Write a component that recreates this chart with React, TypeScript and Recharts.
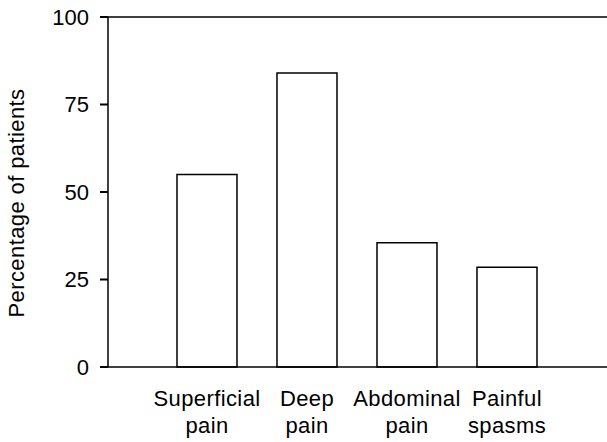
import { BarChart, Bar, XAxis, YAxis, ReferenceLine, Label } from "recharts";

const categories = ["Superficial pain", "Deep pain", "Abdominal pain", "Painful spasms"];
const percentages = [55, 84, 35.5, 28.5];
const yTicks = [0, 25, 50, 75, 100];

const data = categories.map((name, i) => ({ name, value: percentages[i] }));

const font = "'Liberation Sans', Arial, sans-serif";

function CategoryTick(props: any) {
  const { x, y, payload } = props;
  const words = String(payload.value).split(" ");
  return (
    <text
      x={x}
      y={y}
      textAnchor="middle"
      fill="#000"
      fontSize={22}
      letterSpacing={0.4}
      fontFamily={font}
    >
      {words.map((w, i) => (
        <tspan key={i} x={x} y={y + 39 + i * 27}>
          {w}
        </tspan>
      ))}
    </text>
  );
}

function YTitle() {
  return (
    <text
      x={24}
      y={203}
      transform="rotate(-90, 24, 203)"
      textAnchor="middle"
      fill="#000"
      fontSize={22}
      letterSpacing={0.4}
      fontFamily={font}
    >
      Percentage of patients
    </text>
  );
}

export default function App() {
  return (
    <div style={{ position: "absolute", left: 0, top: 0, background: "#fff" }}>
      <BarChart
        width={607}
        height={442}
        data={data}
        margin={{ top: 17, right: 0, bottom: 0, left: 0 }}
      >
        <XAxis
          dataKey="name"
          height={75}
          padding={{ left: 49, right: 50 }}
          tickLine={false}
          tickSize={0}
          tickMargin={0}
          tick={<CategoryTick />}
          axisLine={{ stroke: "#000", strokeWidth: 1.5 }}
          interval={0}
        />
        <YAxis
          width={108}
          domain={[0, 100]}
          ticks={yTicks}
          tickSize={8}
          tickMargin={11}
          tick={{ fill: "#000", fontSize: 22, fontFamily: font }}
          tickLine={{ stroke: "#000", strokeWidth: 2 }}
          axisLine={{ stroke: "#000", strokeWidth: 1.5 }}
        >
          <Label content={<YTitle />} />
        </YAxis>
        <ReferenceLine y={100} stroke="#000" strokeWidth={1.5} />
        <Bar
          dataKey="value"
          barSize={60}
          fill="#fff"
          stroke="#000"
          strokeWidth={1.5}
          isAnimationActive={false}
        />
      </BarChart>
    </div>
  );
}
